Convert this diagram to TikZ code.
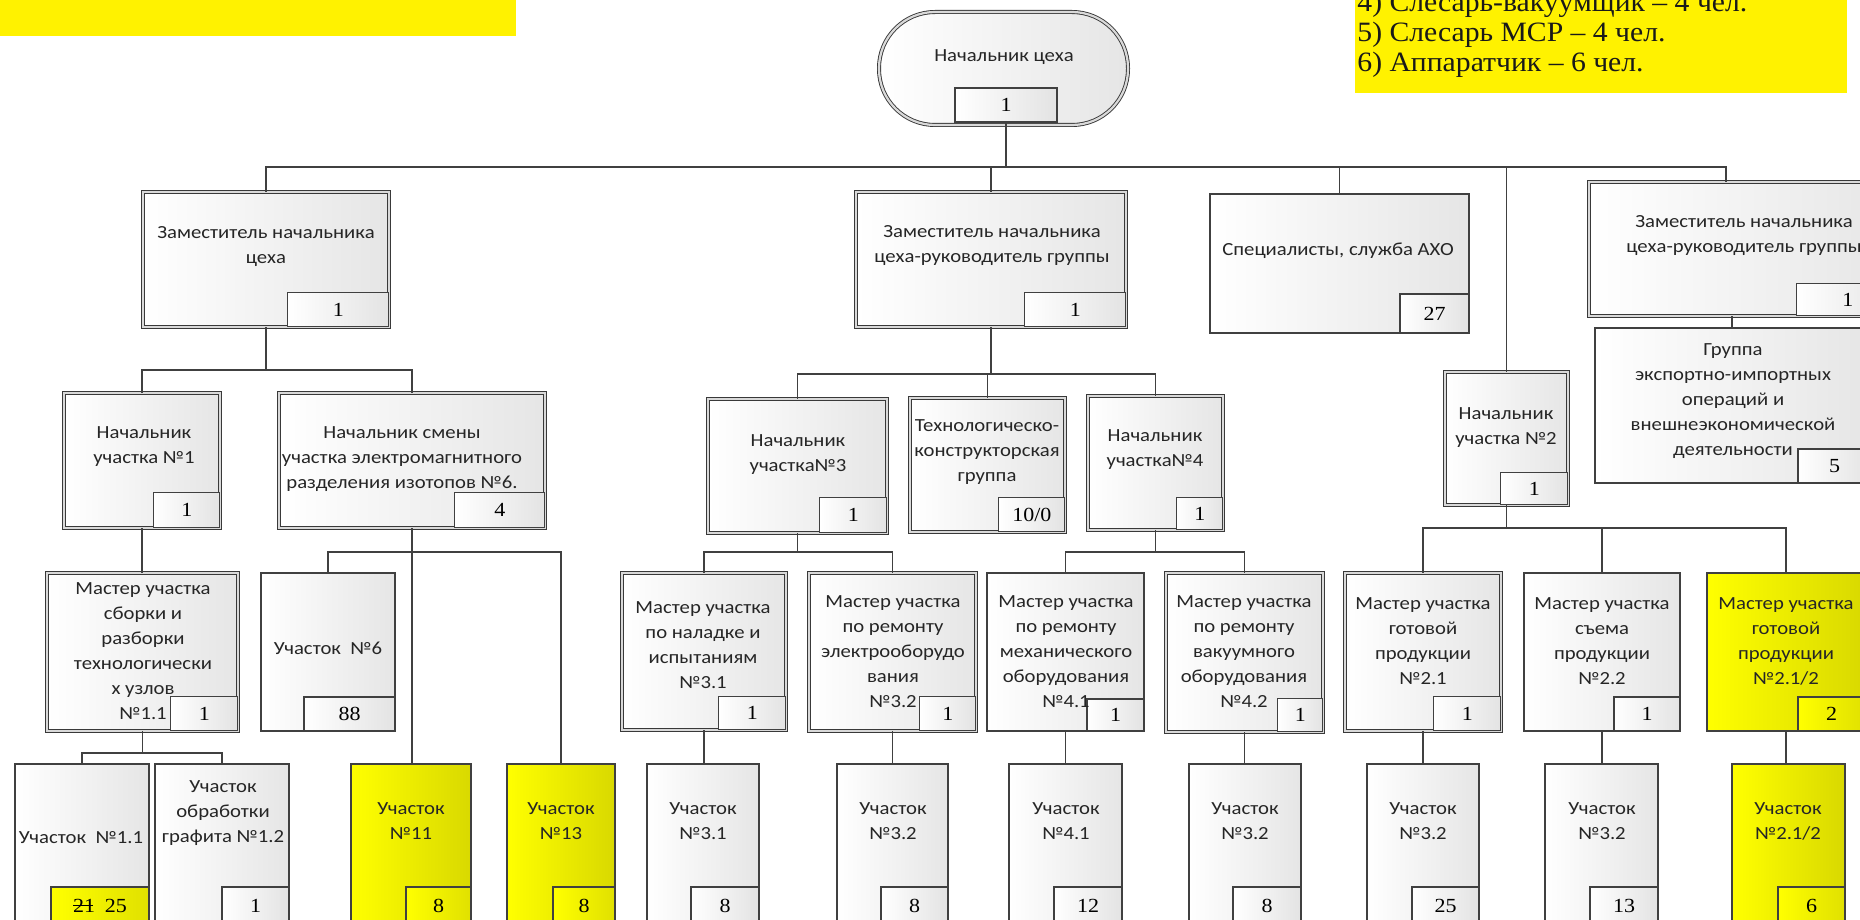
\documentclass[tikz,border=0pt]{standalone}
\usepackage{fontspec}
\newfontfamily\bx[FakeStretch=1.12]{Carlito}
\newfontfamily\nm[FakeStretch=1.1]{Liberation Serif}
\newfontfamily\tm[FakeStretch=1.06]{Liberation Serif}
\newcommand\ob[6]{\node[#2, minimum width={(#5-(#3))*0.5pt}, minimum height={(#6-(#4))*0.5pt}] (#1) at ({(#3+#5)/2},{(#4+#6)/2}) {};}
\newcommand\nb[5]{\node[numbox,#2, minimum width={(#3)*0.5pt}, minimum height={(#4)*0.5pt}] (#1-n) at (#1.south east) {#5};}
\newcommand\tx[4]{\node[txt] (#1-t) at (#2,#3) {#4};}
\begin{document}
\begin{tikzpicture}[x=0.5pt,y=-0.5pt,
 dbox/.style={rectangle, inner sep=0pt, draw=gray!45!black, line width=0.45pt, double=gray!30, double distance=1.1pt, left color=white, right color=gray!20},
 sbox/.style={rectangle, inner sep=0pt, draw=gray!50!black, line width=0.6pt, left color=white, right color=gray!20},
 ybox/.style={rectangle, inner sep=0pt, draw=gray!50!black, line width=0.6pt, left color=yellow, right color=yellow!85!black},
 numbox/.style={rectangle, inner sep=0pt, anchor=south east, draw=gray!50!black, line width=0.6pt, left color=white, right color=gray!22, font=\nm\fontsize{10}{12}\selectfont},
 ynum/.style={left color=yellow, right color=yellow!88!black},
 txt/.style={font=\bx\fontsize{9.25}{12.5}\selectfont, align=center, inner sep=0pt, text=black!85},
 conn/.style={draw=black!75, line width=0.7pt},
 note/.style={font=\tm\fontsize{14}{15}\selectfont, anchor=base west, inner sep=0pt, text=black!90}
]
\useasboundingbox (0,0) rectangle (1860,920);
\fill[white] (0,0) rectangle (1860,920);
\clip (0,0) rectangle (1860,920);

% yellow notes
\node[fill=yellow, inner sep=0pt, minimum width=258pt, minimum height=18pt, anchor=north west] (noteL) at (0,0) {};
\node[fill=yellow, inner sep=0pt, minimum width=246pt, minimum height=46.5pt, anchor=north west] (noteR) at (1355,0) {};
\node[note] (l4) at (1357,12) {4) Слесарь-вакуумщик – 4 чел.};
\node[note] (l5) at (1357,42) {5) Слесарь МСР – 4 чел.};
\node[note] (l6) at (1357,72) {6) Аппаратчик – 6 чел.};

% root
\ob{root}{dbox, rounded corners=28pt}{879}{12}{1128}{125}
\node[numbox, anchor=center, minimum width=51pt, minimum height=17pt] (root-n) at (1006,105) {1};
\tx{root}{1004}{57}{Начальник цеха}

% level 1
\ob{LD}{dbox}{143}{192}{389}{327} \nb{LD}{}{101}{34}{1} \tx{LD}{266}{247}{Заместитель начальника\\цеха}
\ob{MD}{dbox}{856}{192}{1126}{327} \nb{MD}{}{101}{34}{1} \tx{MD}{992}{246}{Заместитель начальника\\цеха-руководитель группы}
\ob{SP}{sbox}{1210}{194}{1469}{333} \nb{SP}{}{69}{39}{27} \tx{SP}{1338}{251}{Специалисты, служба АХО}
\ob{RD}{dbox}{1589}{182}{1899}{316} \nb{RD}{}{102}{32}{1} \tx{RD}{1744}{236}{Заместитель начальника\\цеха-руководитель группы}
\ob{GR}{sbox}{1595}{328}{1871}{483} \nb{GR}{}{73}{34}{5} \tx{GR}{1733}{401}{\fontsize{9.25}{11.5}\selectfont Группа\\экспортно-импортных\\операций и\\внешнеэкономической\\деятельности}

% level 2
\ob{N1}{dbox}{64}{393}{220}{528} \nb{N1}{}{66}{35}{1} \tx{N1}{144}{447}{Начальник\\участка №1}
\ob{NS}{dbox}{279}{393}{545}{528} \nb{NS}{}{90}{35}{4} \tx{NS}{402}{459}{Начальник смены\\участка электромагнитного\\разделения изотопов №6.}
\ob{N3}{dbox}{708}{399}{887}{533} \nb{N3}{}{67}{35}{1} \tx{N3}{798}{455}{Начальник\\участка№3}
\ob{TK}{dbox}{910}{398}{1065}{532} \nb{TK}{}{66}{34}{10/0} \tx{TK}{987}{452}{Технологическо-\\конструкторская\\группа}
\ob{N4}{dbox}{1088}{396}{1223}{530} \nb{N4}{}{46}{32}{1} \tx{N4}{1155}{450}{Начальник\\участка№4}
\ob{N2}{dbox}{1445}{372}{1568}{505} \nb{N2}{}{67}{32}{1} \tx{N2}{1506}{428}{Начальник\\участка №2}

% level 3
\ob{M11}{dbox}{47}{573}{238}{731} \nb{M11}{}{67}{34}{1} \tx{M11}{143}{651}{Мастер участка\\сборки и\\разборки\\технологически\\х узлов\\№1.1}
\ob{U6}{sbox}{261}{573}{395}{731} \nb{U6}{}{91}{34}{88} \tx{U6}{328}{648}{Участок\ \ №6}
\ob{M31}{dbox}{622}{573}{786}{730} \nb{M31}{}{67}{33}{1} \tx{M31}{703}{645}{Мастер участка\\по наладке и\\испытаниям\\№3.1}
\ob{M32}{dbox}{809}{573}{976}{731} \nb{M32}{}{56}{34}{1} \tx{M32}{893}{652}{Мастер участка\\по ремонту\\электрооборудо\\вания\\№3.2}
\ob{M41}{sbox}{987}{573}{1144}{731} \nb{M41}{}{57}{32}{1} \tx{M41}{1066}{652}{Мастер участка\\по ремонту\\механического\\оборудования\\№4.1}
\ob{M42}{dbox}{1166}{573}{1323}{732} \nb{M42}{}{45}{33}{1} \tx{M42}{1244}{652}{Мастер участка\\по ремонту\\вакуумного\\оборудования\\№4.2}
\ob{M21}{dbox}{1345}{573}{1501}{731} \nb{M21}{}{67}{34}{1} \tx{M21}{1423}{641}{Мастер участка\\готовой\\продукции\\№2.1}
\ob{M22}{sbox}{1524}{573}{1680}{731} \nb{M22}{}{66}{34}{1} \tx{M22}{1602}{641}{Мастер участка\\съема\\продукции\\№2.2}
\ob{M212}{ybox}{1707}{573}{1865}{731} \nb{M212}{ynum}{67}{34}{2} \tx{M212}{1786}{641}{Мастер участка\\готовой\\продукции\\№2.1/2}

% level 4
\ob{U11}{sbox}{15}{764}{149}{924} \nb{U11}{ynum}{98}{37}{\rlap{\rule[0.3em]{1em}{0.5pt}}21\hspace{0.5em}25\hspace{20pt}} \tx{U11}{81}{838}{Участок\ \ №1.1}
\ob{UG}{sbox}{155}{764}{289}{924} \nb{UG}{}{67}{37}{1} \tx{UG}{223}{813}{Участок\\обработки\\графита №1.2}
\ob{U11y}{ybox}{351}{764}{471}{924} \nb{U11y}{ynum}{65}{37}{8} \tx{U11y}{411}{821}{Участок\\№11}
\ob{U13y}{ybox}{507}{764}{615}{924} \nb{U13y}{ynum}{62}{37}{8} \tx{U13y}{561}{821}{Участок\\№13}
\ob{U31}{sbox}{647}{764}{759}{924} \nb{U31}{}{68}{37}{8} \tx{U31}{703}{821}{Участок\\№3.1}
\ob{U32a}{sbox}{837}{764}{948}{924} \nb{U32a}{}{67}{37}{8} \tx{U32a}{893}{821}{Участок\\№3.2}
\ob{U41}{sbox}{1009}{764}{1122}{924} \nb{U41}{}{68}{37}{12} \tx{U41}{1066}{821}{Участок\\№4.1}
\ob{U32b}{sbox}{1189}{764}{1301}{924} \nb{U32b}{}{68}{37}{8} \tx{U32b}{1245}{821}{Участок\\№3.2}
\ob{U32c}{sbox}{1367}{764}{1479}{924} \nb{U32c}{}{67}{37}{25} \tx{U32c}{1423}{821}{Участок\\№3.2}
\ob{U32d}{sbox}{1545}{764}{1658}{924} \nb{U32d}{}{68}{37}{13} \tx{U32d}{1602}{821}{Участок\\№3.2}
\ob{U212}{ybox}{1732}{764}{1845}{924} \nb{U212}{ynum}{67}{37}{6} \tx{U212}{1788}{821}{Участок\\№2.1/2}

% connectors
\coordinate (b0) at (0,167);
\coordinate (RDd) at ([xshift=-9pt]RD.north);
\draw[conn] (root-n.south) -- (root-n.south |- b0);
\draw[conn] (LD.north) -- (LD.north |- b0) -- (RDd |- b0) -- (RDd);
\foreach \n in {MD,SP,N2} \draw[conn] (\n.north) -- (\n.north |- b0);

\coordinate (b1) at (0,370);
\draw[conn] (LD.south) -- (LD.south |- b1);
\draw[conn] (N1.north) -- (N1.north |- b1) -- (NS.north |- b1) -- (NS.north);
\draw[conn] (N1.south) -- (N1.south |- M11.north);

\coordinate (b2) at (0,552);
\draw[conn] (NS.south) -- (NS.south |- U11y.north);
\draw[conn] (U6.north) -- (U6.north |- b2) -- (U13y.north |- b2) -- (U13y.north);

\coordinate (b3) at (0,753);
\draw[conn] (M11.south) -- (M11.south |- b3);
\draw[conn] (U11.north) -- (U11.north |- b3) -- (UG.north |- b3) -- (UG.north);

\coordinate (b4) at (0,374);
\draw[conn] (MD.south) -- (MD.south |- b4);
\draw[conn] (N3.north) -- (N3.north |- b4) -- (N4.north |- b4) -- (N4.north);
\draw[conn] (TK.north) -- (TK.north |- b4);

\coordinate (b5) at (0,552);
\draw[conn] (N3.south) -- (N3.south |- b5);
\draw[conn] (M31.north) -- (M31.north |- b5) -- (M32.north |- b5) -- (M32.north);
\draw[conn] (N4.south) -- (N4.south |- b5);
\draw[conn] (M41.north) -- (M41.north |- b5) -- (M42.north |- b5) -- (M42.north);

\coordinate (b6) at (0,528);
\draw[conn] (N2.south) -- (N2.south |- b6);
\draw[conn] (M21.north) -- (M21.north |- b6) -- (M212.north |- b6) -- (M212.north);
\draw[conn] (M22.north) -- (M22.north |- b6);

\foreach \a/\b in {M31/U31, M32/U32a, M41/U41, M42/U32b, M21/U32c, M22/U32d, M212/U212}
  \draw[conn] (\a.south) -- (\a.south |- \b.north);

\draw[conn] ([xshift=-6pt]RD.south) -- ([xshift=-6pt]RD.south |- GR.north);
\end{tikzpicture}
\end{document}
